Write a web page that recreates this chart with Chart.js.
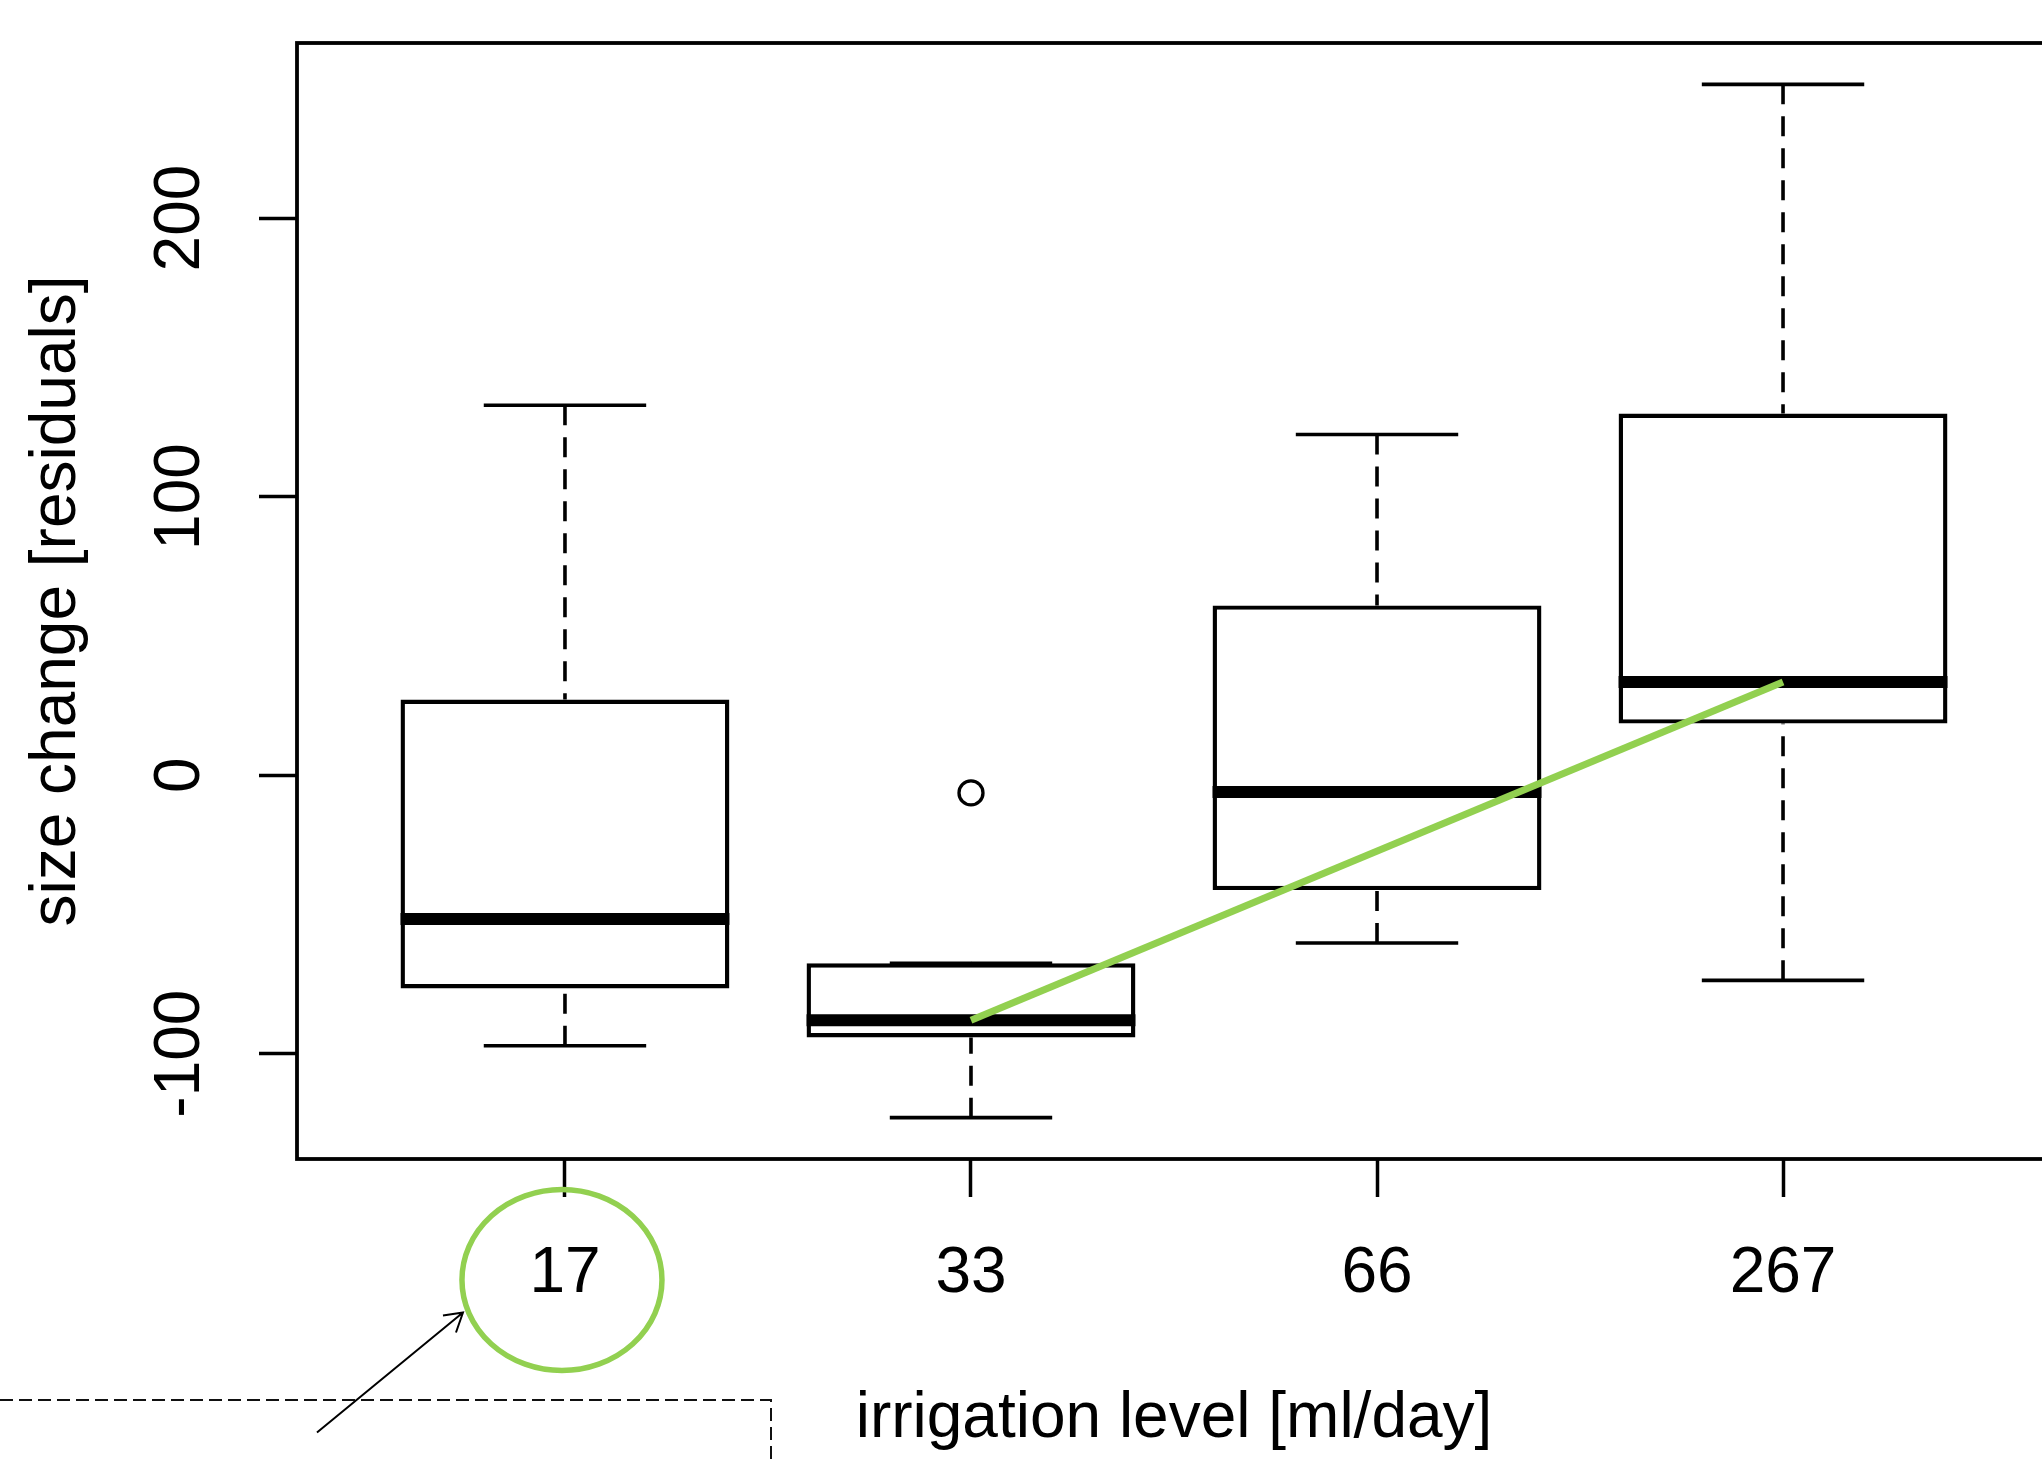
<!DOCTYPE html>
<html>
<head>
<meta charset="utf-8">
<script src="https://cdn.jsdelivr.net/npm/chart.js@4.4.1/dist/chart.umd.min.js"></script>
<style>
html,body{margin:0;padding:0;background:#fff;overflow:hidden;}
#wrap{width:2100px;height:1462px;}
</style>
</head>
<body>
<div id="wrap"><canvas id="c" width="2100" height="1462"></canvas></div>
<script>
// ---- data ----
const categories  = ['17', '33', '66', '267'];
const whiskerLow  = [-97.2, -123.0, -60.3, -73.7];
const q1          = [-76.6,  -94.2, -41.3,  18.5];
const median      = [-51.7,  -88.0,  -6.1,  33.4];
const q3          = [ 27.1,  -67.6,  60.9, 129.8];
const whiskerHigh = [132.8,  -67.6, 122.3, 248.0];
const outlierGroup = [2];
const outlierValue = [-6.4];
const trendGroup = [2, 4];
const trendValue = [-88.0, 33.4];
const yTickValues = [-100, 0, 100, 200];
const xTitle = 'irrigation level [ml/day]';
const yTitle = 'size change [residuals]';

// ---- axis limits, R style (4% expansion) ----
const allVals = [...whiskerLow, ...whiskerHigh, ...outlierValue];
const dLo = Math.min(...allVals), dHi = Math.max(...allVals);
const yPad = 0.04 * (dHi - dLo);
const yMin = dLo - yPad, yMax = dHi + yPad;
const xLo = 0.5, xHi = categories.length + 0.5;
const xPad = 0.04 * (xHi - xLo);
const xMin = xLo - xPad, xMax = xHi + xPad;

const FONT = '"Liberation Sans", Arial, sans-serif';
const GREEN = '#92d050';

const boxParts = {
  id: 'boxParts',
  beforeDatasetsDraw(chart) {
    const {ctx, scales: {x, y}, chartArea: ca} = chart;
    ctx.save();
    ctx.strokeStyle = '#000';
    ctx.lineWidth = 3.6;
    const capHalf = x.getPixelForValue(1.2) - x.getPixelForValue(1);
    for (let i = 0; i < categories.length; i++) {
      const px = x.getPixelForValue(i + 1);
      // dashed whiskers (drawn from whisker end toward the box)
      ctx.setLineDash([20, 12]);
      ctx.beginPath();
      ctx.moveTo(px, y.getPixelForValue(whiskerHigh[i]));
      ctx.lineTo(px, y.getPixelForValue(q3[i]));
      ctx.stroke();
      ctx.beginPath();
      ctx.moveTo(px, y.getPixelForValue(whiskerLow[i]));
      ctx.lineTo(px, y.getPixelForValue(q1[i]));
      ctx.stroke();
      ctx.setLineDash([]);
      // staples
      ctx.beginPath();
      const yh = y.getPixelForValue(whiskerHigh[i]);
      const yl = y.getPixelForValue(whiskerLow[i]);
      ctx.moveTo(px - capHalf, yh); ctx.lineTo(px + capHalf, yh);
      ctx.moveTo(px - capHalf, yl); ctx.lineTo(px + capHalf, yl);
      ctx.stroke();
    }
    // plot frame
    ctx.lineWidth = 3.8;
    ctx.strokeRect(ca.left, ca.top, ca.right - ca.left, ca.bottom - ca.top);
    ctx.restore();
  },
  afterDatasetDraw(chart, args) {
    if (args.meta.type !== 'bar') return;
    const {ctx, scales: {y}} = chart;
    ctx.save();
    ctx.strokeStyle = '#000';
    ctx.lineWidth = 12;
    args.meta.data.forEach((el, i) => {
      const {x: cx, width} = el.getProps(['x', 'width'], true);
      const py = y.getPixelForValue(median[i]);
      ctx.beginPath();
      ctx.moveTo(cx - width / 2, py);
      ctx.lineTo(cx + width / 2, py);
      ctx.stroke();
    });
    ctx.restore();
  },
  afterDraw(chart) {
    const {ctx, scales: {x}, chartArea: ca} = chart;
    ctx.save();
    // green ellipse round the first category label
    const ex = x.getPixelForValue(1) - 3, ey = ca.bottom + 121;
    ctx.strokeStyle = GREEN;
    ctx.lineWidth = 5.5;
    ctx.beginPath();
    ctx.ellipse(ex, ey, 100, 90.5, 0, 0, Math.PI * 2);
    ctx.stroke();
    // arrow pointing to the ellipse
    ctx.strokeStyle = '#000';
    ctx.lineWidth = 2;
    const tx = ex - 99, ty = ey + 32.5;
    ctx.beginPath();
    ctx.moveTo(ex - 245, ey + 152.5);
    ctx.lineTo(tx, ty);
    ctx.moveTo(tx - 20, ty + 3); ctx.lineTo(tx, ty); ctx.lineTo(tx - 7, ty + 20);
    ctx.stroke();
    // dashed callout box edge
    ctx.strokeStyle = '#111';
    ctx.setLineDash([13, 6]);
    ctx.lineWidth = 2;
    const by = ca.bottom + 241;
    ctx.beginPath();
    ctx.moveTo(0, by);
    ctx.lineTo(771, by);
    ctx.lineTo(771, chart.height);
    ctx.stroke();
    ctx.restore();
  }
};

new Chart(document.getElementById('c'), {
  data: {
    datasets: [
      {
        type: 'line', label: 'trend',
        data: trendGroup.map((g, i) => ({x: g, y: trendValue[i]})),
        borderColor: GREEN, borderWidth: 7, pointRadius: 0, fill: false, tension: 0, order: 0
      },
      {
        type: 'scatter', label: 'outliers',
        data: outlierGroup.map((g, i) => ({x: g, y: outlierValue[i]})),
        pointRadius: 12, pointBorderWidth: 3.3, pointBorderColor: '#000',
        pointBackgroundColor: 'rgba(0,0,0,0)', order: 1
      },
      {
        type: 'bar', label: 'IQR',
        data: categories.map((c, i) => ({x: i + 1, y: [q1[i], q3[i]]})),
        backgroundColor: '#fff', borderColor: '#000', borderWidth: 4.4,
        borderSkipped: false, barPercentage: 0.81, categoryPercentage: 1, order: 2
      }
    ]
  },
  options: {
    responsive: false,
    animation: false,
    events: [],
    devicePixelRatio: 1,
    layout: {padding: {top: 43, right: 49, bottom: 0, left: 0}},
    plugins: {legend: {display: false}, tooltip: {enabled: false}},
    scales: {
      x: {
        type: 'linear', min: xMin, max: xMax, offset: false,
        afterBuildTicks: s => { s.ticks = categories.map((c, i) => ({value: i + 1})); },
        ticks: {
          callback: v => categories[Math.round(v) - 1],
          font: {family: FONT, size: 64}, color: '#000', padding: 39,
          autoSkip: false, minRotation: 0, maxRotation: 0, includeBounds: false
        },
        grid: {display: true, offset: false, drawOnChartArea: false, drawTicks: true, tickLength: 38, tickWidth: 3.5, tickColor: '#000'},
        border: {display: false},
        title: {display: true, text: xTitle, font: {family: FONT, size: 64}, color: '#000', padding: {top: 0, bottom: 4}},
        afterFit: s => { s.height = 303; s.paddingLeft = 0; s.paddingRight = 0; }
      },
      y: {
        type: 'linear', min: yMin, max: yMax,
        afterBuildTicks: s => { s.ticks = yTickValues.map(v => ({value: v})); },
        ticks: {
          font: {family: FONT, size: 64}, color: '#000', padding: 14,
          minRotation: 90, maxRotation: 90, crossAlign: 'center', includeBounds: false
        },
        grid: {display: true, drawOnChartArea: false, drawTicks: true, tickLength: 38, tickWidth: 3.5, tickColor: '#000'},
        border: {display: false},
        title: {display: true, text: yTitle, font: {family: FONT, size: 64}, color: '#000', padding: {top: 19, bottom: 0}},
        afterFit: s => { s.width = 297; s.paddingTop = 0; s.paddingBottom = 0; }
      }
    }
  },
  plugins: [boxParts]
});
</script>
</body>
</html>
